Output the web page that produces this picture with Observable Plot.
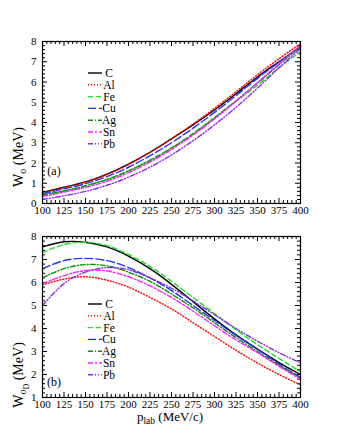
<!DOCTYPE html>
<html><head><meta charset="utf-8">
<script src="https://cdn.jsdelivr.net/npm/d3@7"></script>
<script src="https://cdn.jsdelivr.net/npm/@observablehq/plot@0.6"></script>
<style>body{margin:0;background:#fff;} svg{display:block;}</style>
</head><body><div id="chart"></div>
<script>
const xs = [100,125,150,175,200,225,250,275,300,325,350,375,400];
const nuclei = ["C","Al","Fe","Cu","Ag","Sn","Pb"];
const colors = ["#000000","#ff0000","#22e022","#2233ff","#108a10","#ff22ff","#8a2be2"];
const dashes = [null,"1,2","5,3","8,3","5,2,1,2","5,2,2,2","5,2,1,2,1,2"];
const xTickLabels = [100,125,150,175,200,225,250,275,300,325,350,375,400];

// Panel (a): W_o
const aC  = [0.55,0.80,1.07,1.45,1.95,2.53,3.19,3.88,4.62,5.42,6.25,7.00,7.75];
const aAl = [0.52,0.78,1.05,1.43,1.92,2.52,3.20,3.92,4.70,5.52,6.36,7.15,7.90];
const aFe = [0.42,0.62,0.88,1.20,1.62,2.15,2.75,3.45,4.25,5.05,5.85,6.70,7.50];
const aCu = [0.48,0.72,0.98,1.33,1.79,2.36,3.00,3.72,4.50,5.33,6.18,6.98,7.72];
const aAg = [0.42,0.62,0.87,1.18,1.60,2.12,2.73,3.43,4.22,5.07,5.95,6.85,7.75];
const aSn = [0.35,0.56,0.80,1.10,1.52,2.05,2.67,3.38,4.18,5.05,5.97,6.90,7.82];
const aPb = [0.20,0.38,0.60,0.90,1.30,1.80,2.40,3.10,3.88,4.75,5.70,6.70,7.65];

// Panel (b): W_oD
const bC  = [7.55,7.77,7.75,7.55,7.15,6.60,5.92,5.17,4.42,3.72,3.10,2.52,2.00];
const bAl = [5.90,6.15,6.25,6.10,5.80,5.35,4.85,4.25,3.65,3.05,2.50,2.00,1.55];
const bFe = [7.30,7.65,7.75,7.60,7.22,6.70,6.05,5.35,4.65,3.95,3.30,2.70,2.12];
const bCu = [6.60,6.95,7.05,6.95,6.65,6.20,5.65,5.00,4.35,3.70,3.10,2.45,1.88];
const bAg = [6.20,6.60,6.78,6.72,6.45,6.05,5.50,4.90,4.25,3.60,3.00,2.40,1.85];
const bSn = [5.95,6.30,6.52,6.50,6.25,5.85,5.35,4.75,4.12,3.50,2.95,2.35,1.80];
const bPb = [5.00,5.95,6.45,6.65,6.55,6.20,5.75,5.20,4.60,4.00,3.45,2.95,2.50];

const seriesA = [aC,aAl,aFe,aCu,aAg,aSn,aPb];
const seriesB = [bC,bAl,bFe,bCu,bAg,bSn,bPb];

const W = 340, ML = 42, MR = 40;
const FONT = "Liberation Serif, Times New Roman, serif";

function range(a, b, s) { const r = []; for (let v = a; v <= b + 1e-9; v += s) r.push(+v.toFixed(6)); return r; }

function panel({series, ymin, ymax, height, mt, mb, legendTop, tag, tagY, sub2, ylabStart}) {
  const ph = height - mt - mb, pw = W - ML - MR;
  const py = (ymax - ymin) / ph, px = 300 / pw;
  const xMaj = range(100, 400, 25), xMin = range(100, 400, 5).filter(v => v % 25);
  const yMaj = range(ymin, ymax, 1), yMin = range(ymin, ymax, 0.2).filter(v => Math.abs(v - Math.round(v)) > 1e-6);
  const marks = [];
  const tk = (lenMaj, lenMin) => {
    marks.push(Plot.ruleX(xMaj, {x: d => d, y1: ymin, y2: ymin + lenMaj * py, stroke: "black"}));
    marks.push(Plot.ruleX(xMaj, {x: d => d, y1: ymax, y2: ymax - lenMaj * py, stroke: "black"}));
    marks.push(Plot.ruleX(xMin, {x: d => d, y1: ymin, y2: ymin + lenMin * py, stroke: "black"}));
    marks.push(Plot.ruleX(xMin, {x: d => d, y1: ymax, y2: ymax - lenMin * py, stroke: "black"}));
    marks.push(Plot.ruleY(yMaj, {y: d => d, x1: 100, x2: 100 + lenMaj * px, stroke: "black"}));
    marks.push(Plot.ruleY(yMaj, {y: d => d, x1: 400, x2: 400 - lenMaj * px, stroke: "black"}));
    marks.push(Plot.ruleY(yMin, {y: d => d, x1: 100, x2: 100 + lenMin * px, stroke: "black"}));
    marks.push(Plot.ruleY(yMin, {y: d => d, x1: 400, x2: 400 - lenMin * px, stroke: "black"}));
  };
  tk(5, 3);
  series.forEach((vals, i) => {
    const rows = xs.map((x, j) => ({x, y: vals[j]}));
    marks.push(Plot.line(rows, {x: "x", y: "y", stroke: colors[i], strokeWidth: 1.4,
      strokeDasharray: dashes[i] || undefined, curve: "natural"}));
  });
  marks.push(Plot.frame({stroke: "black", strokeWidth: 1.2}));
  marks.push(Plot.axisX(xTickLabels, {tickSize: 0, tickPadding: 3, fontSize: 11, label: null}));
  marks.push(Plot.axisY(yMaj, {tickSize: 0, tickPadding: 6, fontSize: 11, label: null, tickFormat: d => d}));
  const svg = Plot.plot({
    width: W, height, marginLeft: ML, marginRight: MR, marginTop: mt, marginBottom: mb,
    x: {domain: [100, 400]}, y: {domain: [ymin, ymax]},
    style: {fontFamily: FONT, color: "black", background: "white", overflow: "visible"},
    marks
  });
  const s = d3.select(svg);
  const lg = s.append("g").attr("font-family", FONT).attr("font-size", 11.5);
  nuclei.forEach((n, i) => {
    const y = legendTop + i * 11.8;
    lg.append("line").attr("x1", 88).attr("x2", 102).attr("y1", y).attr("y2", y)
      .attr("stroke", colors[i]).attr("stroke-width", 1.4).attr("stroke-dasharray", dashes[i]);
    lg.append("text").attr("x", 109).attr("y", y).attr("dy", "0.35em").text(n);
  });
  s.append("text").attr("x", 54).attr("y", tagY).attr("dy", "0.35em")
    .attr("font-family", FONT).attr("font-size", 12).text(tag);
  const t = s.append("text").attr("font-family", FONT).attr("font-size", 14)
    .attr("transform", `translate(23,${ylabStart}) rotate(-90)`);
  t.append("tspan").text("W");
  t.append("tspan").attr("font-size", 10).attr("dy", 3).text("o");
  if (sub2) {
    t.append("tspan").attr("font-size", 8).attr("dy", 2.5).text(sub2);
    t.append("tspan").attr("dy", -5.5).text(" (MeV)");
  } else {
    t.append("tspan").attr("dy", -3).text(" (MeV)");
  }
  return svg;
}

const topPanel = panel({series: seriesA, ymin: 0, ymax: 8, height: 220, mt: 41, mb: 17,
  legendTop: 73, tag: "(a)", tagY: 171, sub2: null, ylabStart: 157});
const botPanel = panel({series: seriesB, ymin: 1, ymax: 8, height: 220, mt: 16, mb: 43,
  legendTop: 84, tag: "(b)", tagY: 162, sub2: "D", ylabStart: 155});

const xl = d3.select(botPanel).append("text").attr("font-family", FONT).attr("font-size", 13)
  .attr("x", 170).attr("y", 201).attr("text-anchor", "middle");
xl.append("tspan").text("p");
xl.append("tspan").attr("font-size", 9.5).attr("dy", 3).text("lab");
xl.append("tspan").attr("dy", -3).text(" (MeV/c)");

const c = document.getElementById("chart");
c.appendChild(topPanel);
c.appendChild(botPanel);
</script></body></html>
